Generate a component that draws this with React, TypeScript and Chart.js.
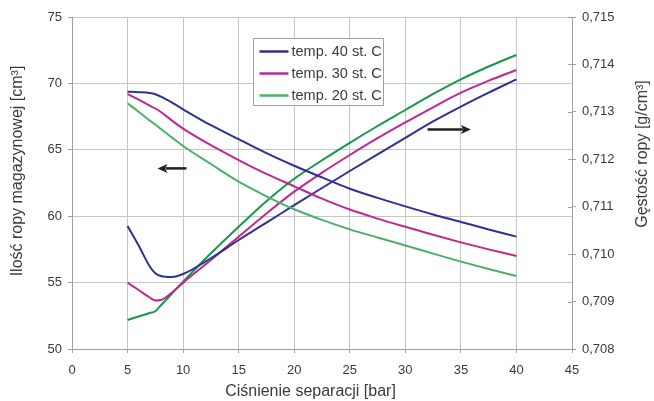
import React, { useEffect, useRef } from 'react';
import { Chart, registerables } from 'chart.js';

Chart.register(...registerables);

// Separator pressure [bar]
const pressure = [5, 6, 7, 7.5, 8, 9, 10, 12.5, 15, 17.5, 20, 22.5, 25, 27.5, 30, 32.5, 35, 37.5, 40];

// Stock-tank oil volume [cm³] (left axis)
const volume40 = [69.38, 69.34, 69.28, 69.18, 69.0, 68.55, 68.05, 66.85, 65.8, 64.75, 63.8, 62.92, 62.07, 61.38, 60.74, 60.13, 59.57, 59.0, 58.46];
const volume30 = [69.2, 68.77, 68.33, 68.11, 67.85, 67.2, 66.6, 65.35, 64.23, 63.18, 62.25, 61.32, 60.5, 59.82, 59.2, 58.6, 58.03, 57.5, 57.0];
const volume20 = [68.5, 67.86, 67.2, 66.9, 66.56, 65.92, 65.29, 63.93, 62.6, 61.5, 60.52, 59.72, 59.01, 58.4, 57.8, 57.18, 56.58, 56.02, 55.5];

// Oil density [g/cm³] (right axis)
const density40 = [0.710594, 0.710182, 0.70974, 0.709596, 0.709539, 0.709518, 0.709581, 0.709913, 0.710298, 0.710663, 0.711032, 0.711395, 0.711753, 0.712105, 0.712453, 0.712797, 0.713109, 0.713404, 0.713686];
const density30 = [0.709398, 0.709244, 0.709086, 0.709023, 0.709033, 0.709191, 0.709398, 0.709877, 0.710368, 0.710857, 0.711317, 0.711717, 0.71209, 0.712445, 0.712778, 0.713096, 0.713404, 0.713657, 0.713883];
const density20 = [0.708612, 0.708685, 0.708759, 0.708797, 0.708922, 0.70917, 0.709419, 0.710018, 0.710579, 0.711116, 0.711589, 0.711979, 0.712348, 0.712702, 0.713039, 0.713377, 0.713686, 0.713956, 0.714199];

const seriesLabels = ['temp. 40 st. C', 'temp. 30 st. C', 'temp. 20 st. C'];

// Axis ranges
const pressureRange = { min: 0, max: 45, step: 5 };
const volumeRange = { min: 50, max: 75, step: 5 };
const densityRange = { min: 0.708, max: 0.715, step: 0.001 };

const xTitle = 'Ciśnienie separacji [bar]';
const yLeftTitle = 'Ilość ropy magazynowej [cm³]';
const yRightTitle = 'Gęstość ropy [g/cm³]';

// Arrows telling which axis a family of curves belongs to
const volumeArrow = { from: 10.3, to: 7.7, level: 63.6 };
const densityArrow = { from: 32.0, to: 35.9, level: 0.71263 };

const FONT = 'Arial, "Liberation Sans", Helvetica, sans-serif';
const TEXT = '#3a3a3a';
const GRID = '#c6c6c6';
const AXIS = '#a0a0a0';
const BLUE = '#2e3192';
const MAGENTA = '#c0288c';
const GREEN_LIGHT = '#4caf6a';
const GREEN_DARK = '#14994b';

const toPoints = (ys: number[]) => pressure.map((p, i) => ({ x: p, y: ys[i] }));

const line = (label: string, ys: number[], color: string, axis: string) => ({
  label,
  data: toPoints(ys),
  yAxisID: axis,
  borderColor: color,
  backgroundColor: color,
  borderWidth: 2,
  pointRadius: 0,
  fill: false,
  cubicInterpolationMode: 'monotone' as const,
});

const drawArrow = (ctx: CanvasRenderingContext2D, x1: number, x2: number, y: number) => {
  const dir = Math.sign(x2 - x1);
  const head = 10;
  ctx.save();
  ctx.strokeStyle = '#231f20';
  ctx.fillStyle = '#231f20';
  ctx.lineWidth = 2.5;
  ctx.beginPath();
  ctx.moveTo(x1, y);
  ctx.lineTo(x2 - dir * head * 0.8, y);
  ctx.stroke();
  ctx.beginPath();
  ctx.moveTo(x2, y);
  ctx.lineTo(x2 - dir * head, y - 4.5);
  ctx.lineTo(x2 - dir * head * 0.75, y);
  ctx.lineTo(x2 - dir * head, y + 4.5);
  ctx.closePath();
  ctx.fill();
  ctx.restore();
};

const decorations = {
  id: 'decorations',
  afterDraw(chart: any) {
    const { ctx, chartArea, scales } = chart;
    const { x, y, y1 } = scales;

    // inner half of the right-axis tick marks
    ctx.save();
    ctx.strokeStyle = AXIS;
    ctx.lineWidth = 1;
    y1.ticks.forEach((t: any) => {
      const py = Math.round(y1.getPixelForValue(t.value)) + 0.5;
      ctx.beginPath();
      ctx.moveTo(chartArea.right - 4, py);
      ctx.lineTo(chartArea.right, py);
      ctx.stroke();
    });
    ctx.restore();

    // arrows
    drawArrow(ctx, x.getPixelForValue(volumeArrow.from), x.getPixelForValue(volumeArrow.to), y.getPixelForValue(volumeArrow.level));
    drawArrow(ctx, x.getPixelForValue(densityArrow.from), x.getPixelForValue(densityArrow.to), y1.getPixelForValue(densityArrow.level));

    // legend box inside the plot
    const bx = chartArea.left + 181.5;
    const by = chartArea.top + 21.5;
    const bw = 130;
    const bh = 67;
    ctx.save();
    ctx.fillStyle = '#ffffff';
    ctx.fillRect(bx, by, bw, bh);
    ctx.strokeStyle = AXIS;
    ctx.lineWidth = 1;
    ctx.strokeRect(bx, by, bw, bh);
    ctx.font = `14.5px ${FONT}`;
    ctx.textBaseline = 'middle';
    ctx.textAlign = 'left';
    chart.data.datasets.slice(0, 3).forEach((ds: any, i: number) => {
      const ry = by + 13 + i * 22;
      ctx.strokeStyle = ds.borderColor;
      ctx.lineWidth = 2.5;
      ctx.beginPath();
      ctx.moveTo(bx + 6, ry);
      ctx.lineTo(bx + 35, ry);
      ctx.stroke();
      ctx.fillStyle = TEXT;
      ctx.fillText(ds.label, bx + 38, ry + 0.5);
    });
    ctx.restore();

    // axis titles
    ctx.save();
    ctx.fillStyle = TEXT;
    ctx.font = `16px ${FONT}`;
    ctx.textAlign = 'center';
    ctx.textBaseline = 'alphabetic';
    ctx.fillText(xTitle, chartArea.left + 238.5, 396);
    ctx.textBaseline = 'middle';
    ctx.translate(18, 171);
    ctx.rotate(-Math.PI / 2);
    ctx.fillText(yLeftTitle, 0, 0);
    ctx.restore();

    ctx.save();
    ctx.fillStyle = TEXT;
    ctx.font = `16px ${FONT}`;
    ctx.textAlign = 'center';
    ctx.textBaseline = 'middle';
    ctx.translate(643, 154);
    ctx.rotate(-Math.PI / 2);
    ctx.fillText(yRightTitle, 0, 0);
    ctx.restore();
  },
};

export default function App() {
  const canvasRef = useRef<HTMLCanvasElement | null>(null);

  useEffect(() => {
    const canvas = canvasRef.current;
    if (!canvas) return;
    const tickFont = { family: FONT, size: 13 };

    const chart = new Chart(canvas, {
      type: 'line',
      data: {
        datasets: [
          line(seriesLabels[0], volume40, BLUE, 'y'),
          line(seriesLabels[1], volume30, MAGENTA, 'y'),
          line(seriesLabels[2], volume20, GREEN_LIGHT, 'y'),
          line(seriesLabels[0], density40, BLUE, 'y1'),
          line(seriesLabels[1], density30, MAGENTA, 'y1'),
          line(seriesLabels[2], density20, GREEN_DARK, 'y1'),
        ],
      },
      options: {
        animation: false,
        responsive: false,
        devicePixelRatio: 1,
        layout: { padding: { top: 17, left: 0, right: 0, bottom: 0 } },
        plugins: { legend: { display: false }, tooltip: { enabled: false } },
        scales: {
          x: {
            type: 'linear',
            min: pressureRange.min,
            max: pressureRange.max,
            ticks: { stepSize: pressureRange.step, font: tickFont, color: TEXT, padding: 10, maxRotation: 0 },
            grid: { color: GRID, tickLength: 4, tickColor: AXIS },
            border: { color: AXIS },
            afterFit: (s: any) => { s.height = 52; },
          },
          y: {
            type: 'linear',
            position: 'left',
            min: volumeRange.min,
            max: volumeRange.max,
            ticks: { stepSize: volumeRange.step, font: tickFont, color: TEXT, padding: 6 },
            grid: { color: GRID, tickLength: 4, tickColor: AXIS },
            border: { color: AXIS },
            afterFit: (s: any) => { s.width = 72; },
          },
          y1: {
            type: 'linear',
            position: 'right',
            min: densityRange.min,
            max: densityRange.max,
            ticks: {
              stepSize: densityRange.step,
              font: tickFont,
              color: TEXT,
              padding: 6,
              callback: (v: any) => Number(v).toFixed(3).replace('.', ','),
            },
            grid: { drawOnChartArea: false, tickLength: 4, color: AXIS },
            border: { color: AXIS },
            afterFit: (s: any) => { s.width = 82; },
          },
        },
      } as any,
      plugins: [decorations],
    });

    return () => chart.destroy();
  }, []);

  return (
    <div style={{ position: 'fixed', left: 0, top: 0, width: 654, height: 401, background: '#fff' }}>
      <canvas ref={canvasRef} width={654} height={401} style={{ display: 'block' }} />
    </div>
  );
}
